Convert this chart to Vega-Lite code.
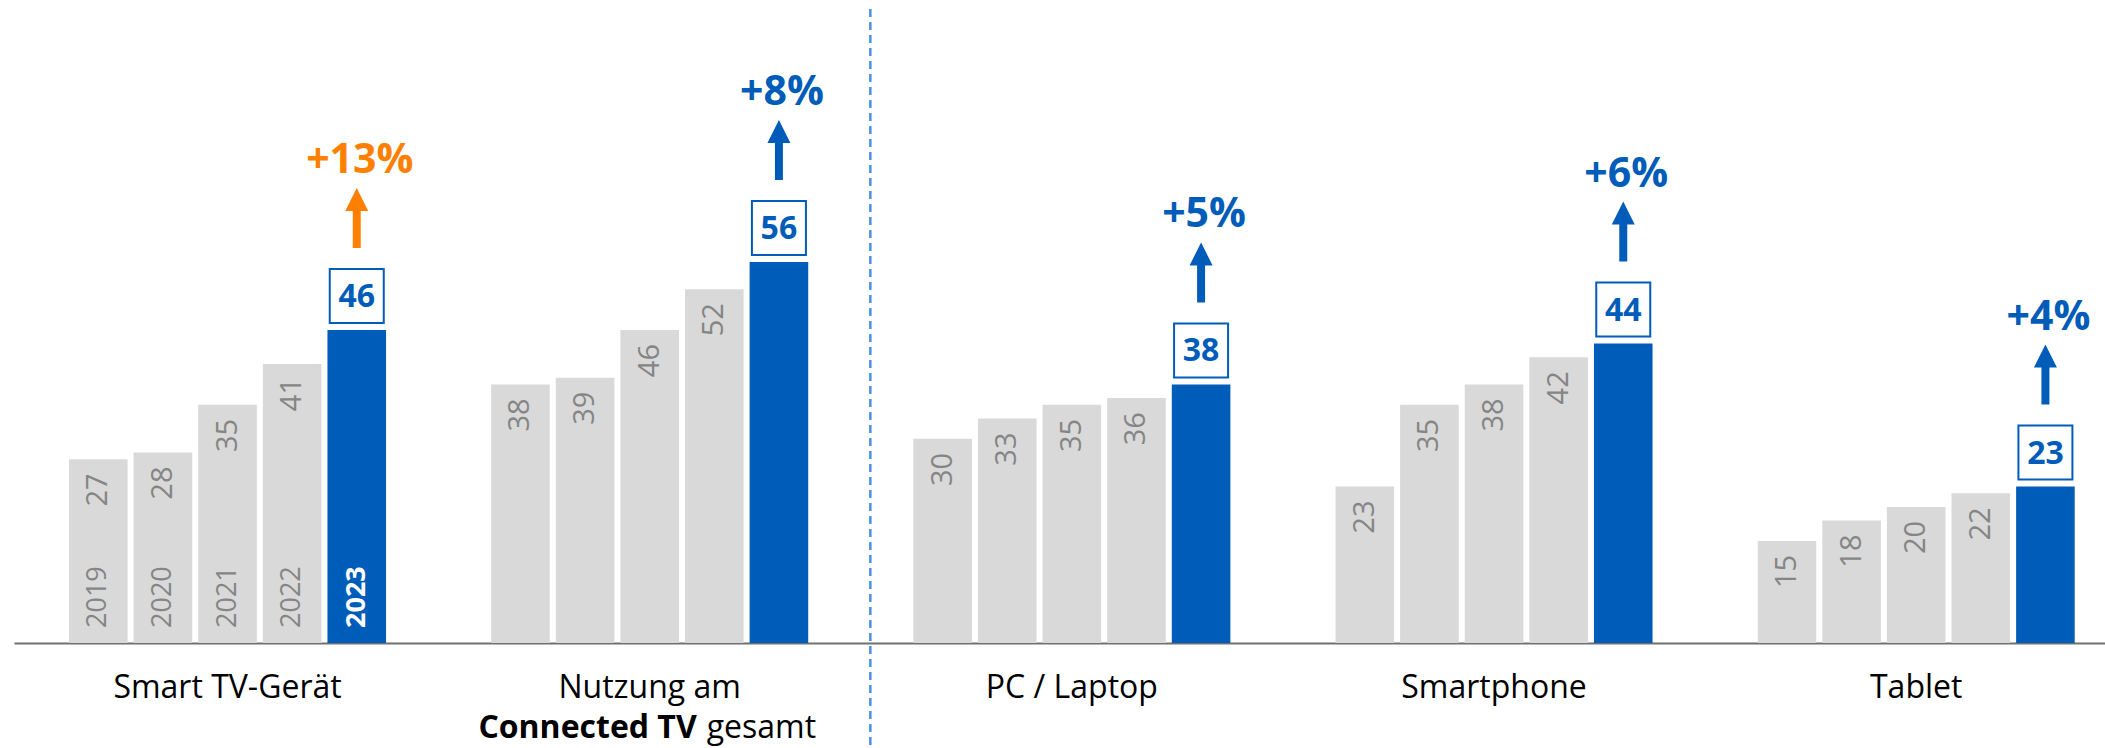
{
  "$schema": "https://vega.github.io/schema/vega-lite/v6.json",
  "width": 2091,
  "height": 643,
  "autosize": {"type": "none"},
  "padding": {"left": 14, "top": 0, "right": 0, "bottom": 105},
  "background": "white",
  "config": {"view": {"stroke": null}, "font": "Open Sans"},
  "data": {"values": [
    {"group": "Smart TV-Gerät", "year": 2019, "value": 27},
    {"group": "Smart TV-Gerät", "year": 2020, "value": 28},
    {"group": "Smart TV-Gerät", "year": 2021, "value": 35},
    {"group": "Smart TV-Gerät", "year": 2022, "value": 41},
    {"group": "Smart TV-Gerät", "year": 2023, "value": 46, "change": "+13%"},
    {"group": "Nutzung am Connected TV gesamt", "year": 2019, "value": 38},
    {"group": "Nutzung am Connected TV gesamt", "year": 2020, "value": 39},
    {"group": "Nutzung am Connected TV gesamt", "year": 2021, "value": 46},
    {"group": "Nutzung am Connected TV gesamt", "year": 2022, "value": 52},
    {"group": "Nutzung am Connected TV gesamt", "year": 2023, "value": 56, "change": "+8%"},
    {"group": "PC / Laptop", "year": 2019, "value": 30},
    {"group": "PC / Laptop", "year": 2020, "value": 33},
    {"group": "PC / Laptop", "year": 2021, "value": 35},
    {"group": "PC / Laptop", "year": 2022, "value": 36},
    {"group": "PC / Laptop", "year": 2023, "value": 38, "change": "+5%"},
    {"group": "Smartphone", "year": 2019, "value": 23},
    {"group": "Smartphone", "year": 2020, "value": 35},
    {"group": "Smartphone", "year": 2021, "value": 38},
    {"group": "Smartphone", "year": 2022, "value": 42},
    {"group": "Smartphone", "year": 2023, "value": 44, "change": "+6%"},
    {"group": "Tablet", "year": 2019, "value": 15},
    {"group": "Tablet", "year": 2020, "value": 18},
    {"group": "Tablet", "year": 2021, "value": 20},
    {"group": "Tablet", "year": 2022, "value": 22},
    {"group": "Tablet", "year": 2023, "value": 23, "change": "+4%"}
  ]},
  "encoding": {
    "x": {
      "field": "group", "type": "nominal",
      "sort": ["Smart TV-Gerät", "Nutzung am Connected TV gesamt", "PC / Laptop", "Smartphone", "Tablet"],
      "scale": {"paddingInner": 0.249, "paddingOuter": 0.101, "align": 0.645},
      "axis": {
        "title": null, "ticks": false, "tickSize": 0, "domainColor": "#707070", "domainWidth": 2,
        "labelAngle": 0, "labelFont": "Open Sans", "labelFontSize": 32, "labelColor": "#000000",
        "labelBaseline": "alphabetic", "labelPadding": 54, "labelLimit": 0,
        "labelExpr": "datum.label == 'Nutzung am Connected TV gesamt' ? 'Nutzung am' : datum.label"
      }
    }
  },
  "layer": [
    {
      "mark": {"type": "bar"},
      "encoding": {
        "xOffset": {"field": "year", "type": "ordinal", "scale": {"paddingInner": 0.093, "paddingOuter": 0}},
        "y": {"field": "value", "type": "quantitative", "scale": {"domain": [0, 94.5], "nice": false, "zero": true}, "axis": null},
        "color": {"condition": {"test": "datum.year == 2023", "value": "#005CB9"}, "value": "#D9D9D9"}
      }
    },
    {
      "transform": [{"filter": "datum.year != 2023"}],
      "mark": {"type": "text", "angle": 270, "align": "right", "baseline": "middle", "fontSize": 29, "color": "#858585", "yOffset": 14},
      "encoding": {
        "xOffset": {"field": "year", "type": "ordinal"},
        "y": {"field": "value", "type": "quantitative"},
        "text": {"field": "value", "type": "quantitative"}
      }
    },
    {
      "transform": [{"filter": "datum.group == 'Smart TV-Gerät' && datum.year != 2023"}],
      "mark": {"type": "text", "angle": 270, "align": "left", "baseline": "middle", "fontSize": 27, "color": "#858585", "yOffset": -15},
      "encoding": {
        "xOffset": {"field": "year", "type": "ordinal"},
        "y": {"datum": 0, "type": "quantitative"},
        "text": {"field": "year", "type": "nominal"}
      }
    },
    {
      "transform": [{"filter": "datum.group == 'Smart TV-Gerät' && datum.year == 2023"}],
      "mark": {"type": "text", "angle": 270, "align": "left", "baseline": "middle", "fontSize": 27, "fontWeight": "bold", "color": "#FFFFFF", "yOffset": -15},
      "encoding": {
        "xOffset": {"field": "year", "type": "ordinal"},
        "y": {"datum": 0, "type": "quantitative"},
        "text": {"field": "year", "type": "nominal"}
      }
    },
    {
      "transform": [{"filter": "datum.year == 2023"}],
      "mark": {"type": "point", "shape": "square", "size": 2916, "filled": true, "fill": "#FFFFFF", "stroke": "#005CB9", "strokeWidth": 2, "opacity": 1, "yOffset": -34},
      "encoding": {
        "xOffset": {"field": "year", "type": "ordinal"},
        "y": {"field": "value", "type": "quantitative"}
      }
    },
    {
      "transform": [{"filter": "datum.year == 2023"}],
      "mark": {"type": "text", "baseline": "middle", "fontSize": 32, "fontWeight": "bold", "color": "#005CB9", "yOffset": -33},
      "encoding": {
        "xOffset": {"field": "year", "type": "ordinal"},
        "y": {"field": "value", "type": "quantitative"},
        "text": {"field": "value", "type": "quantitative"}
      }
    },
    {
      "transform": [{"filter": "datum.year == 2023"}],
      "mark": {"type": "point", "shape": "M0,-1L0.383,-0.233L0.133,-0.233L0.133,1L-0.133,1L-0.133,-0.233L-0.383,-0.233Z", "size": 3600, "filled": true, "opacity": 1, "strokeWidth": 0, "yOffset": -112},
      "encoding": {
        "xOffset": {"field": "year", "type": "ordinal"},
        "y": {"field": "value", "type": "quantitative"},
        "color": {"condition": {"test": "datum.group == 'Smart TV-Gerät'", "value": "#FF8000"}, "value": "#005CB9"}
      }
    },
    {
      "transform": [{"filter": "datum.year == 2023"}],
      "mark": {"type": "text", "baseline": "alphabetic", "fontSize": 41, "fontWeight": "bold", "yOffset": -157, "dx": 3},
      "encoding": {
        "xOffset": {"field": "year", "type": "ordinal"},
        "y": {"field": "value", "type": "quantitative"},
        "text": {"field": "change", "type": "nominal"},
        "color": {"condition": {"test": "datum.group == 'Smart TV-Gerät'", "value": "#FF8000"}, "value": "#005CB9"}
      }
    },
    {
      "data": {"values": [{"group": "PC / Laptop"}]},
      "mark": {"type": "rule", "color": "#4A90E2", "strokeWidth": 2.5, "strokeDash": [8, 5], "xOffset": -43, "yOffset": 9, "y2Offset": 105},
      "encoding": {
        "x": {"field": "group", "type": "nominal", "bandPosition": 0},
        "y": {"datum": 94.5, "type": "quantitative"},
        "y2": {"datum": 0}
      }
    },
    {
      "data": {"values": [{"group": "Nutzung am Connected TV gesamt", "text": "Connected TV"}]},
      "mark": {"type": "text", "align": "right", "baseline": "alphabetic", "fontSize": 32, "fontWeight": "bold", "color": "#000000", "yOffset": 95, "dx": 47},
      "encoding": {
        "y": {"datum": 0, "type": "quantitative"},
        "text": {"field": "text", "type": "nominal"}
      }
    },
    {
      "data": {"values": [{"group": "Nutzung am Connected TV gesamt", "text": "gesamt"}]},
      "mark": {"type": "text", "align": "left", "baseline": "alphabetic", "fontSize": 32, "color": "#000000", "yOffset": 95, "dx": 57},
      "encoding": {
        "y": {"datum": 0, "type": "quantitative"},
        "text": {"field": "text", "type": "nominal"}
      }
    }
  ]
}
